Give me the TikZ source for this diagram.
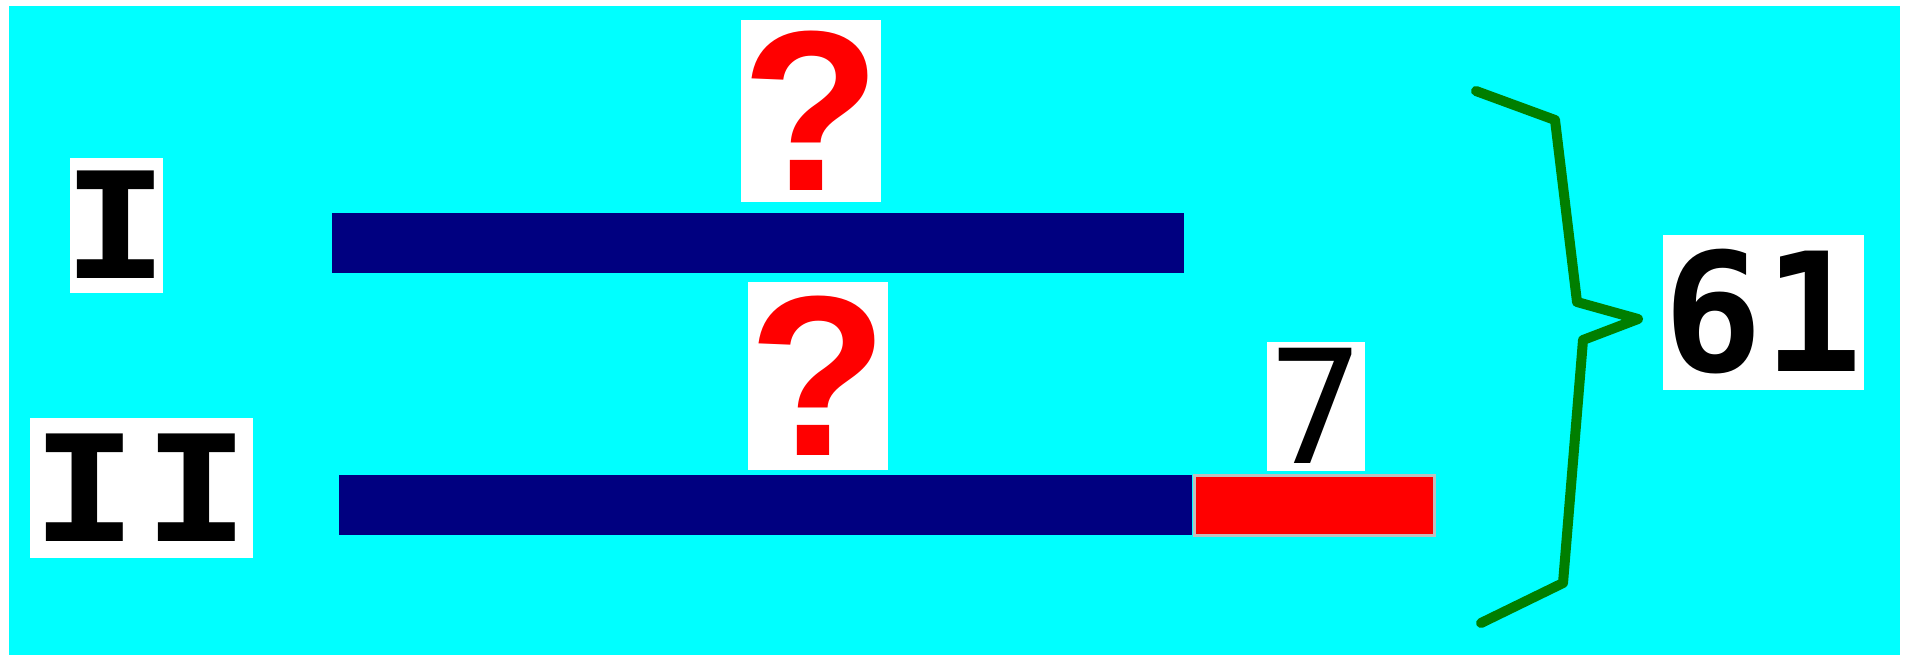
\documentclass[tikz,border=0pt]{standalone}
\usepackage{fontspec}
\newfontfamily\labelfont{DejaVu Sans Mono}
\newfontfamily\quesfont{Liberation Sans}
\definecolor{barblue}{HTML}{000080}
\definecolor{bgcyan}{HTML}{00FFFF}
\definecolor{bracegreen}{HTML}{007F00}

\begin{document}
\begin{tikzpicture}[x=0.1mm, y=-0.1mm,
    labelbox/.style={fill=white, inner sep=0pt, font=\labelfont\bfseries\fontsize{42}{42}\selectfont},
    quesbox/.style={fill=white, inner sep=0pt, text=red, font=\quesfont\bfseries\fontsize{65}{65}\selectfont}]
    \useasboundingbox[fill=white] (0,0) rectangle (1910,660);
    \fill[bgcyan] (9,6) rectangle (1900,655);

    % the two bars
    \fill[barblue] (332,213) rectangle (1184,273);
    \fill[barblue] (339,475) rectangle (1192,535);
    \filldraw[red, draw=gray!50, line width=0.3mm] (1194,475) rectangle (1434,535);

    % row labels and values
    \node[labelbox, minimum width=9.3mm, minimum height=13.5mm] (one) at (116,225) {\makebox[0pt]{\scalebox{1.2}[1]{I}}};
    \node[labelbox, minimum width=22.3mm, minimum height=14mm] (two) at (141,488) {\makebox[0pt]{\scalebox{1.2}[1]{I}\kern0.6mm\scalebox{1.2}[1]{I}}};
    \node[quesbox, minimum width=11.8mm, minimum height=18.2mm] (q1) at (811,111) {?};
    \node[quesbox, minimum width=12mm, minimum height=18.8mm] (q2) at (818,376) {?};
    \node[labelbox, minimum width=9.8mm, minimum height=12.9mm, font=\labelfont\fontsize{45}{45}\selectfont] (seven) at (1316,406) {7};
    \node[labelbox, minimum width=20.1mm, minimum height=15.5mm, font=\labelfont\bfseries\fontsize{47}{47}\selectfont] (total) at (1763,312) {61};

    % brace
    \draw[bracegreen, line width=1mm, line join=round, line cap=round]
        (1476,91) -- (1555,120) -- (1577,302) -- (1638,319) -- (1583,340) -- (1563,583) -- (1481,623);
\end{tikzpicture}
\end{document}
